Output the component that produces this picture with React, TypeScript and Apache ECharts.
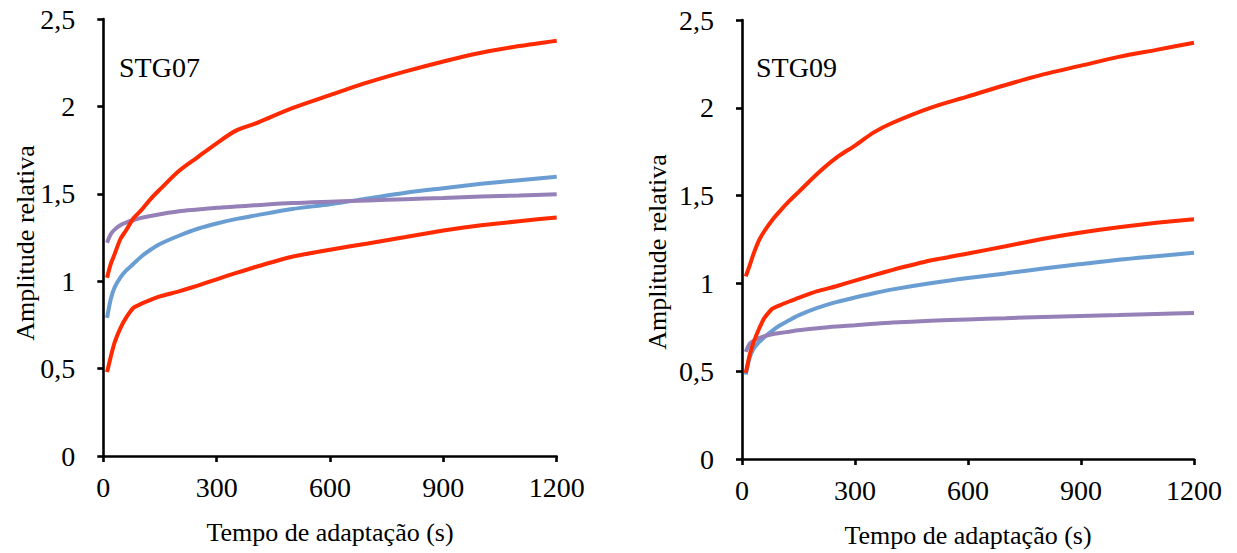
import React, { useEffect, useRef } from "react";
import * as echarts from "echarts";

// Time axis (s), shared by all series
const T = [10, 20, 30, 45, 60, 80, 100, 125, 150, 200, 250, 300, 350, 400, 500, 600, 700, 800, 900, 1000, 1100, 1200];

// STG07
const stg07RedUpper = [1.02, 1.1, 1.155, 1.24, 1.29, 1.36, 1.405, 1.47, 1.525, 1.63, 1.71, 1.789, 1.86, 1.9, 1.99, 2.065, 2.137, 2.2, 2.257, 2.307, 2.345, 2.376];
const stg07Blue = [0.79, 0.9, 0.965, 1.02, 1.06, 1.1, 1.14, 1.18, 1.213, 1.26, 1.3, 1.33, 1.355, 1.375, 1.413, 1.44, 1.473, 1.506, 1.532, 1.557, 1.578, 1.598];
const stg07Purple = [1.22, 1.27, 1.295, 1.32, 1.335, 1.35, 1.362, 1.373, 1.383, 1.4, 1.41, 1.42, 1.427, 1.434, 1.447, 1.455, 1.462, 1.469, 1.476, 1.484, 1.49, 1.497];
const stg07RedLower = [0.48, 0.57, 0.65, 0.73, 0.79, 0.848, 0.87, 0.893, 0.913, 0.942, 0.975, 1.011, 1.046, 1.08, 1.14, 1.18, 1.216, 1.253, 1.29, 1.32, 1.343, 1.365];

// STG09
const stg09RedUpper = [1.04, 1.1, 1.164, 1.245, 1.3, 1.36, 1.41, 1.468, 1.52, 1.625, 1.715, 1.785, 1.86, 1.915, 2.0, 2.065, 2.13, 2.19, 2.24, 2.29, 2.33, 2.37];
const stg09Blue = [0.48, 0.575, 0.625, 0.665, 0.695, 0.73, 0.76, 0.79, 0.818, 0.86, 0.893, 0.92, 0.944, 0.966, 1.001, 1.031, 1.057, 1.085, 1.11, 1.135, 1.155, 1.174];
const stg09Purple = [0.61, 0.655, 0.672, 0.688, 0.7, 0.71, 0.717, 0.725, 0.733, 0.745, 0.755, 0.762, 0.77, 0.777, 0.787, 0.795, 0.802, 0.809, 0.815, 0.82, 0.826, 0.831];
const stg09RedLower = [0.49, 0.59, 0.66, 0.74, 0.805, 0.855, 0.875, 0.897, 0.918, 0.956, 0.984, 1.016, 1.047, 1.077, 1.13, 1.17, 1.212, 1.254, 1.29, 1.32, 1.345, 1.365];

const xTitle = "Tempo de adaptação (s)";
const yTitle = "Amplitude relativa";
const panelLabels = ["STG07", "STG09"];

const RED = "#FF2A00";
const BLUE = "#6A9ED3";
const PURPLE = "#9580B8";
const FONT = "'Liberation Serif', 'Times New Roman', serif";

const toData = (arr: number[]) => T.map((t, i) => [t, arr[i]]);

export default function App() {
  const ref = useRef<HTMLDivElement>(null);
  useEffect(() => {
    if (!ref.current) return;
    const chart = echarts.init(ref.current, undefined, { renderer: "svg" });
    const axisLine = { show: true, lineStyle: { color: "#000", width: 2.6 } };
    const axisTick = { show: true, inside: false, length: 6, lineStyle: { color: "#000", width: 2.6 } };
    const mkX = (gridIndex: number) => ({
      type: "value",
      gridIndex,
      min: 0,
      max: 1200,
      interval: 300,
      axisLine,
      axisTick,
      splitLine: { show: false },
      axisLabel: { color: "#000", fontFamily: FONT, fontSize: 28, margin: 17, formatter: (v: number) => String(v) },
      name: xTitle,
      nameLocation: "middle",
      nameGap: 63,
      nameTextStyle: { color: "#000", fontFamily: FONT, fontSize: 26 },
    });
    const mkY = (gridIndex: number) => ({
      type: "value",
      gridIndex,
      min: 0,
      max: 2.5,
      interval: 0.5,
      axisLine,
      axisTick,
      splitLine: { show: false },
      axisLabel: {
        color: "#000",
        fontFamily: FONT,
        fontSize: 28,
        margin: 28,
        formatter: (v: number) => String(v).replace(".", ","),
      },
    });
    const mkS = (data: number[], color: string, idx: number, smooth: number) => ({
      type: "line",
      xAxisIndex: idx,
      yAxisIndex: idx,
      data: toData(data),
      showSymbol: false,
      symbol: "none",
      smooth,
      lineStyle: { color, width: 4 },
      itemStyle: { color },
    });
    const txt = (text: string, size: number) => ({
      text,
      fontFamily: FONT,
      fontSize: size,
      fill: "#000",
    });
    chart.setOption({
      animation: false,
      backgroundColor: "#fff",
      grid: [
        { left: 103.3, top: 19, width: 453.4, height: 437 },
        { left: 742, top: 20, width: 452, height: 443 },
      ],
      xAxis: [mkX(0), mkX(1)],
      yAxis: [mkY(0), mkY(1)],
      series: [
        mkS(stg07Blue, BLUE, 0, 0.3),
        mkS(stg07Purple, PURPLE, 0, 0.3),
        mkS(stg07RedLower, RED, 0, 0.15),
        mkS(stg07RedUpper, RED, 0, 0.3),
        mkS(stg09Blue, BLUE, 1, 0.3),
        mkS(stg09Purple, PURPLE, 1, 0.3),
        mkS(stg09RedLower, RED, 1, 0.15),
        mkS(stg09RedUpper, RED, 1, 0.3),
      ],
      graphic: [
        {
          type: "text",
          x: 25,
          y: 243,
          rotation: Math.PI / 2,
          style: { ...txt(yTitle, 26), textAlign: "center", textVerticalAlign: "middle" },
        },
        {
          type: "text",
          x: 657,
          y: 252,
          rotation: Math.PI / 2,
          style: { ...txt(yTitle, 26), textAlign: "center", textVerticalAlign: "middle" },
        },
        {
          type: "text",
          x: 119,
          y: 67,
          style: { ...txt(panelLabels[0], 28), textAlign: "left", textVerticalAlign: "middle" },
        },
        {
          type: "text",
          x: 756,
          y: 67,
          style: { ...txt(panelLabels[1], 28), textAlign: "left", textVerticalAlign: "middle" },
        },
      ],
    });
    return () => chart.dispose();
  }, []);
  return <div ref={ref} style={{ position: "absolute", left: 0, top: 0, width: 1237, height: 553 }} />;
}
